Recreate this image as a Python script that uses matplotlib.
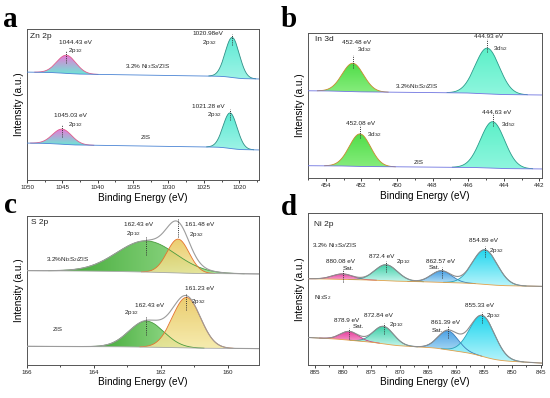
import numpy as np
import matplotlib
matplotlib.use("Agg")
import matplotlib.pyplot as plt
from matplotlib.colors import to_rgb
from matplotlib.patches import PathPatch
from matplotlib.ticker import MultipleLocator

plt.rcParams['font.family'] = ['Liberation Sans', 'DejaVu Sans']
plt.rcParams['mathtext.fontset'] = 'custom'
plt.rcParams['mathtext.rm'] = 'Liberation Sans'
plt.rcParams['mathtext.it'] = 'Liberation Sans:italic'
plt.rcParams['mathtext.bf'] = 'Liberation Sans:bold'

# peak fits; row 0 = upper spectrum, row 1 = lower spectrum
# Zn 2p (a): 2p1/2, 2p3/2
zn_centers = [[1044.43, 1020.98], [1045.03, 1021.28]]
zn_heights = [[0.12, 0.265], [0.10, 0.235]]
zn_sigmas = [[1.35, 1.0], [1.35, 1.0]]
zn_bg = [[0.715, 0.669], [0.245, 0.199]]

# In 3d (b): 3d3/2, 3d5/2
in_centers = [[452.48, 444.93], [452.08, 444.63]]
in_heights = [[0.195, 0.315], [0.224, 0.32]]
in_sigmas = [[0.6, 0.68], [0.6, 0.68]]
in_bg = [[0.602, 0.572], [0.085, 0.062]]

# S 2p (c): 2p1/2, 2p3/2
s_centers = [[162.43, 161.48], [162.43, 161.23]]
s_heights = [[0.21, 0.228], [0.175, 0.34]]
s_sigmas = [[0.88, 0.33], [0.52, 0.42]]
s_bg = [[0.634, 0.611], [0.124, 0.108]]

# Ni 2p (d): Sat., 2p1/2, Sat., 2p3/2
ni_centers = [[880.08, 872.4, 862.57, 854.89], [878.9, 872.84, 861.39, 855.33]]
ni_heights = [[0.036, 0.105, 0.076, 0.228], [0.058, 0.115, 0.125, 0.27]]
ni_sigmas = [[1.8, 2.0, 1.8, 2.2], [1.6, 1.8, 1.8, 2.2]]
ni_bg = [[0.567, 0.516], [0.18, 0.01]]


def gauss(x, c, h, s):
    return h * np.exp(-0.5 * ((x - c) / s) ** 2)


def background(x, peaks, left, right):
    # half Shirley step, half linear
    shirley = np.cumsum(np.sum(peaks, axis=0))
    shirley = shirley / shirley[-1]
    lin = (x - x[0]) / (x[-1] - x[0])
    return right + (left - right) * (0.5 * shirley + 0.5 * lin)


def gradient_fill(ax, x, y0, y1, c_a, c_b, horizontal=False, alpha=1.0, zorder=2):
    poly = ax.fill_between(x, y0, y1, facecolor='none', edgecolor='none')
    patch = PathPatch(poly.get_paths()[0], facecolor='none', edgecolor='none',
                      transform=ax.transData)
    ax.add_patch(patch)
    t = np.linspace(0, 1, 128)[:, None]
    cols = np.array(to_rgb(c_a)) * (1 - t) + np.array(to_rgb(c_b)) * t
    img = cols[None, :, :] if horizontal else cols[:, None, :]
    im = ax.imshow(img, extent=[x.min(), x.max(), y0.min(), y1.max()], origin='lower',
                   aspect='auto', interpolation='bilinear', alpha=alpha, zorder=zorder)
    im.set_clip_path(patch)


def draw_spectrum(ax, x, centers, heights, sigmas, bg_ends, fills, edges,
                  bg_color, env_color=None, marks=(0.05, 0.025)):
    peaks = [gauss(x, c, h, s) for c, h, s in zip(centers, heights, sigmas)]
    bg = background(x, peaks, *bg_ends)
    for i, (p, h, fill, edge) in enumerate(zip(peaks, heights, fills, edges)):
        m = p > h * 0.004
        gradient_fill(ax, x[m], bg[m], bg[m] + p[m], fill[0], fill[1],
                      horizontal=(len(fill) > 2 and fill[2] == 'h'),
                      alpha=fill[3] if len(fill) > 3 else 1.0, zorder=2 + i * 0.1)
        ax.plot(x[m], bg[m] + p[m], color=edge, lw=0.6, zorder=3)
    env = bg + np.sum(peaks, axis=0)
    if env_color:
        ax.plot(x, env, color=env_color, lw=0.8, zorder=4)
    ax.plot(x, bg, color=bg_color, lw=0.6, zorder=3.5)
    for c in centers:
        top = np.interp(c, x, bg) + sum(gauss(c, cc, hh, ss) for cc, hh, ss in
                                        zip(centers, heights, sigmas))
        ax.plot([c, c], [top - marks[0], top + marks[1]], color='#333333', lw=0.7,
                ls=(0, (1, 1.2)), zorder=5)


def style_axis(ax, xlim, major, minor):
    ax.set_xlim(*xlim)
    ax.set_ylim(0, 1)
    ax.set_yticks([])
    ax.xaxis.set_major_locator(MultipleLocator(major))
    ax.xaxis.set_minor_locator(MultipleLocator(minor))
    ax.tick_params(axis='x', which='major', length=2, width=0.6, pad=1.5,
                   labelsize=4.5, colors='#222222')
    ax.tick_params(axis='x', which='minor', length=1.5, width=0.5)
    for sp in ax.spines.values():
        sp.set_linewidth(0.7)
        sp.set_color('#555555')
    ax.set_xlabel('Binding Energy (eV)', fontsize=7.2, labelpad=2)
    ax.set_ylabel('Intensity (a.u.)', fontsize=7.2, labelpad=2.5)


def note(ax, x, y, s, ha='center', size=4.6):
    ax.text(x, y, s, ha=ha, va='center', fontsize=size, color='#222222', zorder=6)


fig = plt.figure(figsize=(5.5, 3.98), dpi=100)
ax_a = fig.add_axes([0.0491, 0.5477, 0.4218, 0.3794])
ax_b = fig.add_axes([0.56, 0.5528, 0.4255, 0.3643])
ax_c = fig.add_axes([0.0491, 0.0837, 0.4218, 0.3729])
ax_d = fig.add_axes([0.5605, 0.0837, 0.4244, 0.3812])

# ---- a: Zn 2p
x = np.linspace(1017, 1050.5, 1500)
for k in range(2):
    draw_spectrum(ax_a, x, zn_centers[k], zn_heights[k], zn_sigmas[k], zn_bg[k],
                  [('#6fe6d6', '#f072d6'), ('#9ef3e6', '#5eead4')],
                  ['#e05a8c', '#2f8f86'], '#4a84d4')
style_axis(ax_a, (1050, 1017.2), 5, 2.5)
note(ax_a, 1049.6, 0.952, 'Zn 2p', ha='left', size=6)
note(ax_a, 1043.2, 0.91, '1044.43 eV')
note(ax_a, 1044.2, 0.858, '2p$_{1/2}$', ha='left')
note(ax_a, 1024.4, 0.968, '1020.98eV')
note(ax_a, 1024.15, 0.914, '2p$_{3/2}$')
note(ax_a, 1032.95, 0.75, '3.2% Ni$_3$S$_2$/ZIS')
note(ax_a, 1024.4, 0.49, '1021.28 eV')
note(ax_a, 1023.45, 0.432, '2p$_{3/2}$')
note(ax_a, 1043.9, 0.428, '1045.03 eV')
note(ax_a, 1043.2, 0.366, '2p$_{1/2}$')
note(ax_a, 1033.2, 0.28, 'ZIS')

# ---- b: In 3d
x = np.linspace(441.5, 455.5, 1500)
for k in range(2):
    draw_spectrum(ax_b, x, in_centers[k], in_heights[k], in_sigmas[k], in_bg[k],
                  [('#86ec7c', '#4fdd48'), ('#8ff6de', '#5cf0c8')],
                  ['#c8892e', '#2a9a8a'], '#6f74e0', marks=(0.03, 0.06))
style_axis(ax_b, (455, 441.85), 2, 1)
note(ax_b, 454.62, 0.956, 'In 3d', ha='left', size=6)
note(ax_b, 452.27, 0.935, '452.48 eV')
note(ax_b, 452.27, 0.888, '3d$_{3/2}$', ha='left')
note(ax_b, 444.87, 0.979, '444.93 eV')
note(ax_b, 444.6, 0.89, '3d$_{5/2}$', ha='left')
note(ax_b, 448.9, 0.634, '3.2%Ni$_3$S$_2$/ZIS')
note(ax_b, 452.03, 0.378, '452.08 eV')
note(ax_b, 451.7, 0.3, '3d$_{3/2}$', ha='left')
note(ax_b, 444.4, 0.452, '444.63 eV')
note(ax_b, 444.16, 0.368, '3d$_{5/2}$', ha='left')
note(ax_b, 448.77, 0.11, 'ZIS')

# ---- c: S 2p
x = np.linspace(158.8, 166.2, 1500)
for k in range(2):
    draw_spectrum(ax_c, x, s_centers[k], s_heights[k], s_sigmas[k], s_bg[k],
                  [('#b2eba8', '#3aa52f', 'h'), ('#f4e8a0', '#e8c455', 'v', 0.85)],
                  ['#4a9a3e', '#e5722e'], '#a8a8a8', env_color='#9c9c9c',
                  marks=(0.1, 0.02))
style_axis(ax_c, (166, 159.06), 2, 1)
note(ax_c, 165.87, 0.955, 'S 2p', ha='left', size=6)
note(ax_c, 162.67, 0.944, '162.43 eV')
note(ax_c, 162.82, 0.884, '2p$_{1/2}$')
note(ax_c, 160.85, 0.944, '161.48 eV')
note(ax_c, 161.15, 0.878, '2p$_{3/2}$', ha='left')
note(ax_c, 164.77, 0.708, '3.2%Ni$_3$S$_2$/ZIS')
note(ax_c, 160.83, 0.516, '161.23 eV')
note(ax_c, 161.1, 0.424, '2p$_{3/2}$', ha='left')
note(ax_c, 162.33, 0.396, '162.43 eV')
note(ax_c, 162.87, 0.35, '2p$_{1/2}$')
note(ax_c, 165.07, 0.236, 'ZIS')

# ---- d: Ni 2p
x = np.linspace(844.5, 886.5, 1500)
for k in range(2):
    draw_spectrum(ax_d, x, ni_centers[k], ni_heights[k], ni_sigmas[k], ni_bg[k],
                  [('#f6a8d0', '#e63c9c'), ('#c8f6ee', '#3ccfa6'),
                   ('#bfe6f8', '#4aa0e4'), ('#b8f4fb', '#1fd6ee')],
                  ['#c83a86', '#3a9a9a', '#3c7cb8', '#2a9fb8'], '#e2a14a',
                  env_color='#8e8e8e', marks=(0.05, 0.025))
style_axis(ax_d, (886.2, 844.8), 5, 2.5)
note(ax_d, 885.1, 0.923, 'Ni 2p', ha='left', size=6)
note(ax_d, 885.5, 0.784, '3.2% Ni$_3$S$_2$/ZIS', ha='left')
note(ax_d, 880.4, 0.68, '880.08 eV')
note(ax_d, 879.1, 0.632, 'Sat.')
note(ax_d, 873.2, 0.715, '872.4 eV')
note(ax_d, 869.3, 0.678, '2p$_{1/2}$')
note(ax_d, 862.66, 0.683, '862.57 eV')
note(ax_d, 863.85, 0.638, 'Sat.')
note(ax_d, 855.16, 0.816, '854.89 eV')
note(ax_d, 852.8, 0.752, '2p$_{3/2}$')
note(ax_d, 885.2, 0.44, 'Ni$_3$S$_2$', ha='left')
note(ax_d, 879.4, 0.293, '878.9 eV')
note(ax_d, 877.4, 0.25, 'Sat.')
note(ax_d, 873.8, 0.322, '872.84 eV')
note(ax_d, 870.5, 0.262, '2p$_{1/2}$')
note(ax_d, 861.95, 0.278, '861.39 eV')
note(ax_d, 863.25, 0.228, 'Sat.')
note(ax_d, 855.75, 0.388, '855.33 eV')
note(ax_d, 853.4, 0.324, '2p$_{3/2}$')

for lab, px, py in [('a', 10, 27), ('b', 288.5, 26.7), ('c', 10.5, 213), ('d', 288.5, 214.7)]:
    fig.text(px / 550, 1 - py / 398, lab, ha='center', va='baseline', fontsize=21,
             fontweight='bold', family=['Liberation Serif', 'DejaVu Serif'])

fig.savefig('out.png', dpi=100)
